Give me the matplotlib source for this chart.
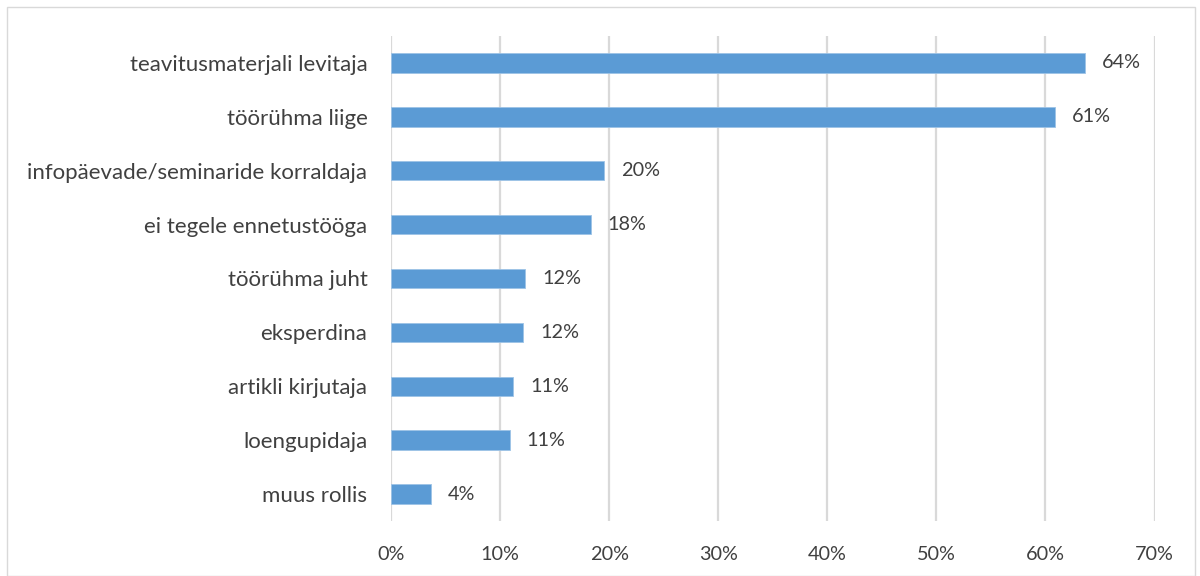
import matplotlib
matplotlib.use("Agg")
import matplotlib.pyplot as plt
from matplotlib.patches import Rectangle
from matplotlib.ticker import FuncFormatter, MultipleLocator

categories = [
    "teavitusmaterjali levitaja",
    "töörühma liige",
    "infopäevade/seminaride korraldaja",
    "ei tegele ennetustööga",
    "töörühma juht",
    "eksperdina",
    "artikli kirjutaja",
    "loengupidaja",
    "muus rollis",
]
values = [63.6, 60.9, 19.5, 18.3, 12.3, 12.1, 11.2, 10.9, 3.7]
labels = ["64%", "61%", "20%", "18%", "12%", "12%", "11%", "11%", "4%"]

plt.rcParams['font.family'] = ['Lato', 'DejaVu Sans']
text_color = "#404040"

fig = plt.figure(figsize=(12, 5.76), dpi=100)
ax = fig.add_axes([391/1200, 1-521/576, (1154.5-391)/1200, (521-36)/576])

y = list(range(len(categories)))
ax.barh(y, values, height=0.36, color="#5B9BD5", edgecolor="#9DC3E6", linewidth=0.6, zorder=3)
for yi, v, lab in zip(y, values, labels):
    ax.text(v + 1.55, yi, lab, va="center", ha="left", fontsize=14.3, color=text_color)

ax.set_yticks(y)
ax.set_yticklabels(categories, fontsize=16, color=text_color)
ax.set_ylim(len(categories) - 0.5, -0.5)
ax.set_xlim(0, 70)
ax.xaxis.set_major_locator(MultipleLocator(10))
ax.xaxis.set_major_formatter(FuncFormatter(lambda v, p: f"{int(round(v))}%"))
ax.tick_params(axis="x", labelsize=14.3, colors=text_color, length=0, pad=18)
ax.tick_params(axis="y", length=0, pad=17)
ax.grid(axis="x", color="#D9D9D9", linewidth=1.6, zorder=0)
for s in ax.spines.values():
    s.set_visible(False)

fig.patches.append(Rectangle((7/1200, 0), 1188/1200, 1 - 7/576, transform=fig.transFigure,
                             fill=False, edgecolor="#D9D9D9", linewidth=1.0))
fig.savefig("out.png", dpi=100)
